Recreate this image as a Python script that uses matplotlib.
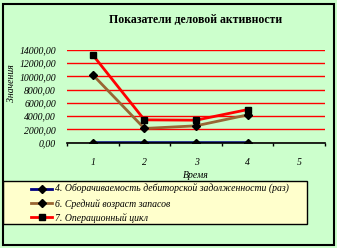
import matplotlib.pyplot as plt
from matplotlib.patches import Rectangle
from matplotlib.ticker import FixedLocator

periods = [1, 2, 3, 4]
turnover = [10, 12, 11, 9]
stock_age = [10250, 2150, 2550, 4200]
op_cycle = [13250, 3450, 3400, 5000]
labels = ['4. Оборачиваемость дебиторской задолженности (раз)',
          '6. Средний возраст запасов',
          '7. Операционный цикл']
yticks = [0, 2000, 4000, 6000, 8000, 10000, 12000, 14000]

plt.rcParams['font.family'] = ['Liberation Serif', 'DejaVu Serif']
bg = '#CCFFCC'

fig = plt.figure(figsize=(3.37, 2.48), dpi=100, facecolor=bg)
ax = fig.add_axes([67 / 337, 1 - 142.7 / 248, 258 / 337, 92.7 / 248])
ax.set_facecolor(bg)

ax.plot(periods, turnover, color='#000080', lw=2, marker='D', ms=4,
        mfc='black', mec='black', label=labels[0])
ax.plot(periods, stock_age, color='#996633', lw=2, marker='D', ms=4,
        mfc='black', mec='black', label=labels[1])
ax.plot(periods, op_cycle, color='#FF0000', lw=2, marker='s', ms=4.5,
        mfc='black', mec='black', label=labels[2])

ax.set_xlim(0.5, 5.5)
ax.set_ylim(0, 14000)
ax.set_yticks(yticks)
ax.set_yticklabels([('%.2f' % v).replace('.', ',') for v in yticks],
                   fontsize=7, style='italic')
ax.set_xticks([1, 2, 3, 4, 5])
ax.set_xticklabels(['1', '2', '3', '4', '5'], fontsize=7, style='italic')
ax.xaxis.set_minor_locator(FixedLocator([0.5, 1.5, 2.5, 3.5, 4.5, 5.5]))
ax.tick_params(axis='x', which='major', length=0, pad=11)
ax.tick_params(axis='x', which='minor', length=2, width=1, direction='out', color='black')
ax.tick_params(axis='y', length=0, pad=8)
ax.grid(axis='y', color='#FF0000', lw=1)
ax.set_axisbelow(True)
for s in ['left', 'right', 'top']:
    ax.spines[s].set_visible(False)
ax.spines['bottom'].set_color('black')
ax.spines['bottom'].set_linewidth(1.2)
ax.spines['bottom'].set_zorder(5)

fig.text(196 / 337, 1 - 20 / 248, 'Показатели деловой активности',
         ha='center', va='center', fontsize=8.5, weight='bold')
fig.text(12 / 337, 1 - 83 / 248, 'Значения', rotation=90,
         ha='center', va='center', fontsize=7, style='italic')
fig.text(196 / 337, 1 - 175 / 248, 'Время',
         ha='center', va='center', fontsize=7, style='italic')

# legend box drawn separately so the entries can sit indented like in Excel
fig.add_artist(Rectangle((3 / 337, 1 - 224 / 248), 304 / 337, 43 / 248,
                         transform=fig.transFigure, facecolor='#FFFFCC',
                         edgecolor='black', lw=1))
leg = fig.legend(loc='upper left', bbox_to_anchor=(29 / 337, 1 - 182 / 248),
                 frameon=False, prop={'size': 7, 'style': 'italic'},
                 handlelength=2.2, borderaxespad=0, labelspacing=0.45,
                 borderpad=0.2, handletextpad=0.3)

fig.add_artist(Rectangle((2.5 / 337, 3.5 / 248), 331 / 337, 241 / 248,
                         transform=fig.transFigure, fill=False,
                         edgecolor='black', lw=1.5))

fig.savefig('out.png', dpi=100, facecolor=bg)
